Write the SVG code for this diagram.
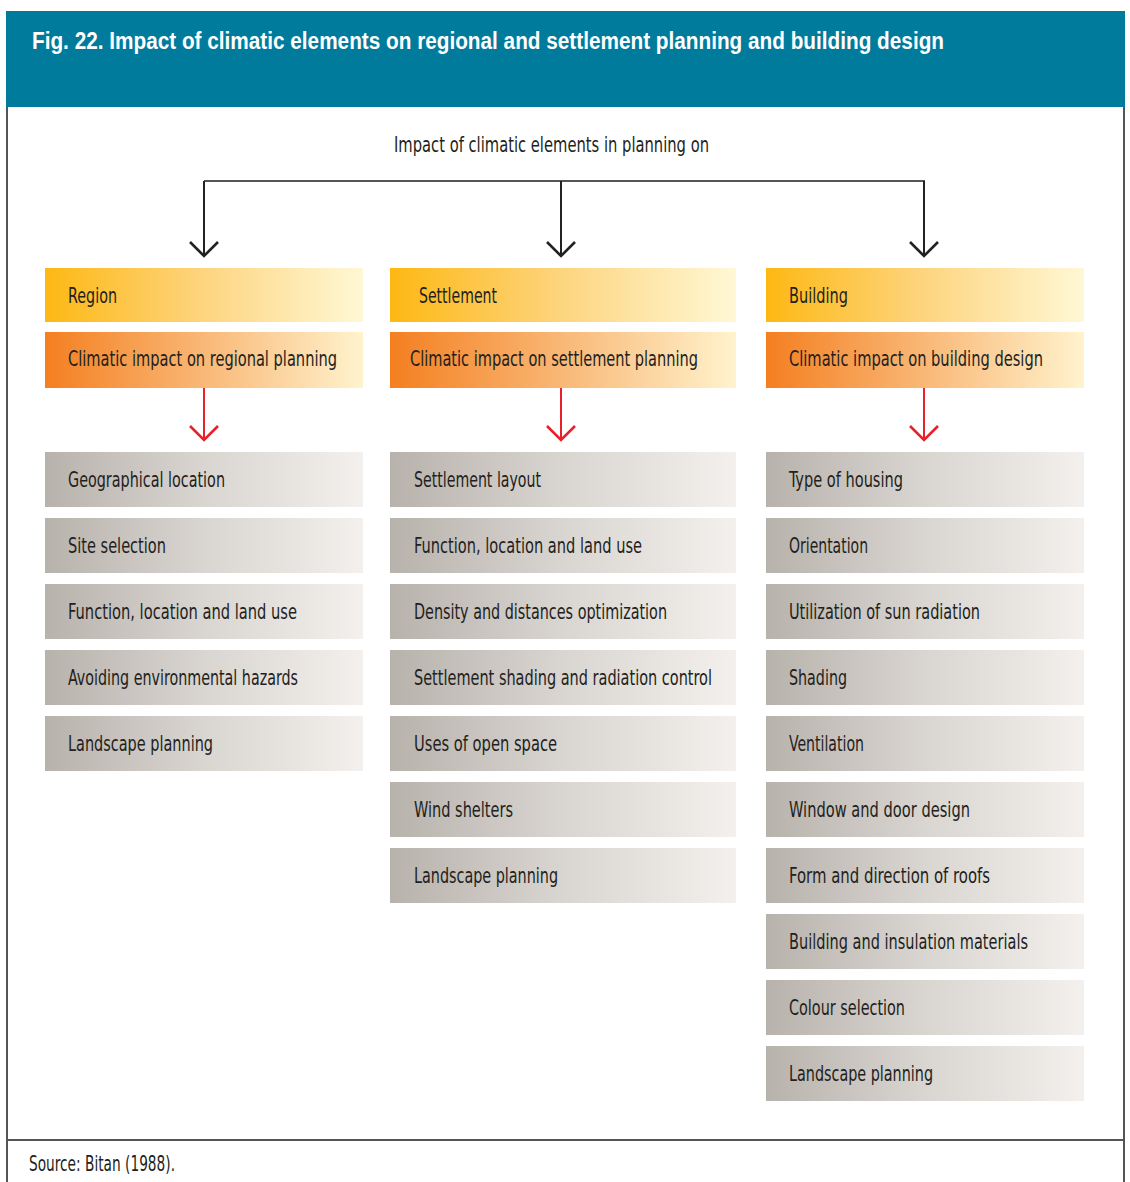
<svg xmlns="http://www.w3.org/2000/svg" width="1130" height="1182" viewBox="0 0 1130 1182">
<defs>
<linearGradient id="gY" x1="0" y1="0" x2="1" y2="0">
<stop offset="0" stop-color="#FDB813"/>
<stop offset="0.5" stop-color="#FDD580"/>
<stop offset="1" stop-color="#FFF8D5"/>
</linearGradient>
<linearGradient id="gO" x1="0" y1="0" x2="1" y2="0">
<stop offset="0" stop-color="#F47F20"/>
<stop offset="0.5" stop-color="#F9B877"/>
<stop offset="1" stop-color="#FFF3CD"/>
</linearGradient>
<linearGradient id="gG" x1="0" y1="0" x2="1" y2="0">
<stop offset="0" stop-color="#B8B2AC"/>
<stop offset="0.5" stop-color="#D9D5D1"/>
<stop offset="1" stop-color="#F3F0ED"/>
</linearGradient>
</defs>
<style>
text{font-family:"Liberation Sans Narrow","DejaVu Sans Condensed","Liberation Sans",sans-serif;fill:#231F20;font-size:22px}
.title{fill:#FFFFFF;font-weight:bold;font-size:23px;font-family:"Liberation Sans","DejaVu Sans",sans-serif}
.y{fill:url(#gY)}
.o{fill:url(#gO)}
.g{fill:url(#gG)}
.frame{stroke:#555;stroke-width:2;fill:none}
.blk{stroke:#222;stroke-width:2;fill:none}
.chev{stroke:#222;stroke-width:2.6;fill:none}
.red{stroke:#E8202A;stroke-width:2;fill:none}
.redc{stroke:#E8202A;stroke-width:2.6;fill:none}
</style>
<rect width="1130" height="1182" fill="#FFFFFF"/>
<g id="header">
<rect x="6" y="11" width="1119" height="96" fill="#007B9C"/>
<text class="title" x="32" y="49" textLength="912" lengthAdjust="spacingAndGlyphs">Fig. 22. Impact of climatic elements on regional and settlement planning and building design</text>
</g>
<g id="frame">
<line class="frame" x1="7" y1="107" x2="7" y2="1182"/>
<line class="frame" x1="1124" y1="107" x2="1124" y2="1182"/>
<line class="frame" x1="7" y1="1140" x2="1124" y2="1140"/>
</g>
<g id="subtitle">
<text x="394" y="152" font-size="21" textLength="315" lengthAdjust="spacingAndGlyphs">Impact of climatic elements in planning on</text>
</g>
<g id="connectors">
<line x1="204" y1="181" x2="925" y2="181" stroke="#555" stroke-width="2"/>
<line class="blk" x1="204" y1="181" x2="204" y2="256"/>
<line class="blk" x1="561" y1="181" x2="561" y2="256"/>
<line class="blk" x1="924" y1="181" x2="924" y2="256"/>
<polyline class="chev" points="190,242 204,256 218,242"/>
<polyline class="chev" points="547,242 561,256 575,242"/>
<polyline class="chev" points="910,242 924,256 938,242"/>
<line class="red" x1="204" y1="388" x2="204" y2="438"/>
<line class="red" x1="561" y1="388" x2="561" y2="438"/>
<line class="red" x1="924" y1="388" x2="924" y2="438"/>
<polyline class="redc" points="190,426 204,440 218,426"/>
<polyline class="redc" points="547,426 561,440 575,426"/>
<polyline class="redc" points="910,426 924,440 938,426"/>
</g>
<g id="region">
<rect class="y" x="45" y="268" width="318" height="54"/>
<text x="68" y="303" textLength="49" lengthAdjust="spacingAndGlyphs">Region</text>
</g>
<g id="regional-planning">
<rect class="o" x="45" y="332" width="318" height="56"/>
<text x="68" y="366" textLength="269" lengthAdjust="spacingAndGlyphs">Climatic impact on regional planning</text>
</g>
<g id="settlement">
<rect class="y" x="390" y="268" width="346" height="54"/>
<text x="419" y="303" textLength="78" lengthAdjust="spacingAndGlyphs">Settlement</text>
</g>
<g id="settlement-planning">
<rect class="o" x="390" y="332" width="346" height="56"/>
<text x="410" y="366" textLength="288" lengthAdjust="spacingAndGlyphs">Climatic impact on settlement planning</text>
</g>
<g id="building">
<rect class="y" x="766" y="268" width="318" height="54"/>
<text x="789" y="303" textLength="59" lengthAdjust="spacingAndGlyphs">Building</text>
</g>
<g id="building-design">
<rect class="o" x="766" y="332" width="318" height="56"/>
<text x="789" y="366" textLength="254" lengthAdjust="spacingAndGlyphs">Climatic impact on building design</text>
</g>
<g id="r1"><rect class="g" x="45" y="452" width="318" height="55"/><text x="68" y="487" textLength="157" lengthAdjust="spacingAndGlyphs">Geographical location</text></g>
<g id="r2"><rect class="g" x="45" y="518" width="318" height="55"/><text x="68" y="553" textLength="98" lengthAdjust="spacingAndGlyphs">Site selection</text></g>
<g id="r3"><rect class="g" x="45" y="584" width="318" height="55"/><text x="68" y="619" textLength="229" lengthAdjust="spacingAndGlyphs">Function, location and land use</text></g>
<g id="r4"><rect class="g" x="45" y="650" width="318" height="55"/><text x="68" y="685" textLength="230" lengthAdjust="spacingAndGlyphs">Avoiding environmental hazards</text></g>
<g id="r5"><rect class="g" x="45" y="716" width="318" height="55"/><text x="68" y="751" textLength="145" lengthAdjust="spacingAndGlyphs">Landscape planning</text></g>
<g id="s1"><rect class="g" x="390" y="452" width="346" height="55"/><text x="414" y="487" textLength="127" lengthAdjust="spacingAndGlyphs">Settlement layout</text></g>
<g id="s2"><rect class="g" x="390" y="518" width="346" height="55"/><text x="414" y="553" textLength="228" lengthAdjust="spacingAndGlyphs">Function, location and land use</text></g>
<g id="s3"><rect class="g" x="390" y="584" width="346" height="55"/><text x="414" y="619" textLength="253" lengthAdjust="spacingAndGlyphs">Density and distances optimization</text></g>
<g id="s4"><rect class="g" x="390" y="650" width="346" height="55"/><text transform="translate(414 685) scale(0.85 1)" x="0" y="0" textLength="350.6" lengthAdjust="spacingAndGlyphs">Settlement shading and radiation control</text></g>
<g id="s5"><rect class="g" x="390" y="716" width="346" height="55"/><text x="414" y="751" textLength="143" lengthAdjust="spacingAndGlyphs">Uses of open space</text></g>
<g id="s6"><rect class="g" x="390" y="782" width="346" height="55"/><text x="414" y="817" textLength="99" lengthAdjust="spacingAndGlyphs">Wind shelters</text></g>
<g id="s7"><rect class="g" x="390" y="848" width="346" height="55"/><text x="414" y="883" textLength="144" lengthAdjust="spacingAndGlyphs">Landscape planning</text></g>
<g id="b1"><rect class="g" x="766" y="452" width="318" height="55"/><text x="789" y="487" textLength="114" lengthAdjust="spacingAndGlyphs">Type of housing</text></g>
<g id="b2"><rect class="g" x="766" y="518" width="318" height="55"/><text x="789" y="553" textLength="79" lengthAdjust="spacingAndGlyphs">Orientation</text></g>
<g id="b3"><rect class="g" x="766" y="584" width="318" height="55"/><text x="789" y="619" textLength="191" lengthAdjust="spacingAndGlyphs">Utilization of sun radiation</text></g>
<g id="b4"><rect class="g" x="766" y="650" width="318" height="55"/><text x="789" y="685" textLength="58" lengthAdjust="spacingAndGlyphs">Shading</text></g>
<g id="b5"><rect class="g" x="766" y="716" width="318" height="55"/><text x="789" y="751" textLength="75" lengthAdjust="spacingAndGlyphs">Ventilation</text></g>
<g id="b6"><rect class="g" x="766" y="782" width="318" height="55"/><text x="789" y="817" textLength="181" lengthAdjust="spacingAndGlyphs">Window and door design</text></g>
<g id="b7"><rect class="g" x="766" y="848" width="318" height="55"/><text x="789" y="883" textLength="201" lengthAdjust="spacingAndGlyphs">Form and direction of roofs</text></g>
<g id="b8"><rect class="g" x="766" y="914" width="318" height="55"/><text x="789" y="949" textLength="239" lengthAdjust="spacingAndGlyphs">Building and insulation materials</text></g>
<g id="b9"><rect class="g" x="766" y="980" width="318" height="55"/><text x="789" y="1015" textLength="116" lengthAdjust="spacingAndGlyphs">Colour selection</text></g>
<g id="b10"><rect class="g" x="766" y="1046" width="318" height="55"/><text x="789" y="1081" textLength="144" lengthAdjust="spacingAndGlyphs">Landscape planning</text></g>
<g id="source">
<text x="29" y="1171" font-size="19" textLength="146" lengthAdjust="spacingAndGlyphs">Source: Bitan (1988).</text>
</g>
</svg>
